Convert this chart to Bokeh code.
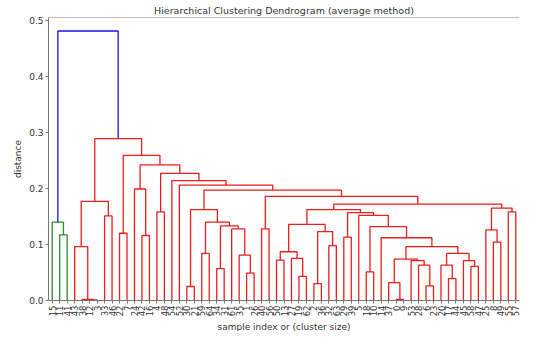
import math
from bokeh.plotting import figure
from bokeh.models import FixedTicker, PrintfTickFormatter, Span, ColumnDataSource, Range1d, Title
from bokeh.embed import file_html
from bokeh.resources import INLINE

# Leaf labels in display order (left to right)
leaf_labels = [15, 11, 41, 43, 38, 12, 3, 33, 46, 22, 7, 24, 42, 16, 4, 48, 54, 52, 30, 21,
               59, 64, 34, 31, 61, 35, 1, 26, 40, 56, 50, 13, 27, 19, 62, 2, 36, 32, 63, 29,
               39, 5, 18, 10, 14, 37, 0, 9, 53, 28, 6, 23, 20, 17, 44, 45, 58, 47, 25, 8,
               49, 55, 57]

# Linkage: children are leaf positions (0..62) or merged nodes (63 + merge index)
merge_left = [1, 0, 5, 4, 3, 7, 67, 9, 12, 11, 14, 18, 20, 22, 26, 25, 24, 76, 75, 74,
              28, 30, 33, 32, 84, 35, 37, 88, 87, 39, 42, 46, 45, 50, 49, 48, 95, 53, 52, 56,
              55, 101, 99, 44, 93, 41, 92, 91, 59, 58, 61, 112, 110, 83, 82, 17, 16, 73, 72, 70,
              69, 64]
merge_right = [2, 63, 6, 65, 66, 8, 68, 10, 13, 71, 15, 19, 21, 23, 27, 77, 78, 79, 80, 81,
               29, 31, 34, 85, 86, 36, 38, 89, 90, 40, 43, 47, 94, 51, 96, 97, 98, 54, 100, 57,
               102, 103, 104, 105, 106, 107, 108, 109, 60, 111, 62, 113, 114, 115, 116, 117, 118, 119, 120, 121,
               122, 123]
merge_height = [0.117, 0.140, 0.001, 0.002, 0.096, 0.151, 0.177, 0.120, 0.116, 0.199,
                0.158, 0.025, 0.084, 0.057, 0.049, 0.081, 0.128, 0.133, 0.140, 0.162,
                0.128, 0.072, 0.043, 0.075, 0.087, 0.030, 0.098, 0.123, 0.136, 0.113,
                0.051, 0.002, 0.032, 0.026, 0.063, 0.071, 0.074, 0.039, 0.063, 0.061,
                0.071, 0.084, 0.096, 0.112, 0.132, 0.152, 0.157, 0.162, 0.104, 0.126,
                0.158, 0.165, 0.172, 0.186, 0.197, 0.206, 0.214, 0.227, 0.242, 0.259,
                0.289, 0.481]

y_ticks = [0.0, 0.1, 0.2, 0.3, 0.4, 0.5]

cluster_colors = ["#2a8f2a", "#ee1c1c"]
above_color = "#1515f0"

n = len(leaf_labels)
pos = {k: 5 + 10 * k for k in range(n)}
hgt = {k: 0.0 for k in range(n)}
for i, (l, r, h) in enumerate(zip(merge_left, merge_right, merge_height)):
    pos[n + i] = (pos[l] + pos[r]) / 2
    hgt[n + i] = h

threshold = 0.7 * max(merge_height)
node_color = {}
counter = [0]

def assign(node, inherited):
    if node < n:
        return
    i = node - n
    h = merge_height[i]
    if h >= threshold:
        c = above_color
    elif inherited is None:
        c = cluster_colors[counter[0] % len(cluster_colors)]
        counter[0] += 1
    else:
        c = inherited
    node_color[node] = c
    nxt = None if h >= threshold else c
    assign(merge_left[i], nxt)
    assign(merge_right[i], nxt)

assign(n + len(merge_height) - 1, None)

xs, ys, cs = [], [], []
for i, (l, r, h) in enumerate(zip(merge_left, merge_right, merge_height)):
    xs.append([pos[l], pos[l], pos[r], pos[r]])
    ys.append([hgt[l], h, h, hgt[r]])
    cs.append(node_color[n + i])

src = ColumnDataSource(dict(xs=xs, ys=ys, color=cs))

ymax = max(merge_height) * 1.05
p = figure(width=521, height=331, x_range=Range1d(0, 10 * n), y_range=Range1d(0, ymax),
           output_backend="svg", toolbar_location=None,
           title="Hierarchical Clustering Dendrogram (average method)",
           min_border_left=48, min_border_right=2, min_border_top=0, min_border_bottom=0)

p.multi_line("xs", "ys", line_color="color", line_width=1.3, source=src)

font = "DejaVu Sans"
txt = "#333333"
ax = "#777777"
p.title.align = "center"
p.title.text_font = font
p.title.text_font_size = "9.5px"
p.title.text_font_style = "normal"
p.title.text_color = txt
p.title.standoff = 4

p.xgrid.visible = False
p.ygrid.visible = False
p.outline_line_color = None
p.add_layout(Span(location=ymax, dimension="width", line_color=ax, line_width=1))

p.xaxis.ticker = FixedTicker(ticks=[pos[k] for k in range(n)])
p.xaxis.major_label_overrides = {pos[k]: str(leaf_labels[k]) for k in range(n)}
p.xaxis.major_label_orientation = math.pi / 2
p.yaxis.axis_label = "distance"
p.yaxis.ticker = FixedTicker(ticks=y_ticks)
p.yaxis.formatter = PrintfTickFormatter(format="%.1f")

for a in (p.xaxis[0], p.yaxis[0]):
    a.minor_tick_line_color = None
    a.major_tick_in = 0
    a.major_tick_out = 3
    a.axis_line_color = ax
    a.major_tick_line_color = ax
    a.major_label_text_font = font
    a.major_label_text_color = txt
    a.axis_label_text_font = font
    a.axis_label_text_font_style = "normal"
    a.axis_label_text_font_size = "9px"
    a.axis_label_text_color = txt
    a.major_label_standoff = 2
    a.axis_label_standoff = 3

p.xaxis.major_label_text_font_size = "8.5px"
p.yaxis.major_label_text_font_size = "9px"

xlabel = Title(text="sample index or (cluster size)", align="center", text_font=font,
               text_font_size="9px", text_font_style="normal", text_color=txt, standoff=0)
p.add_layout(xlabel, "below")

open("out.html", "w").write(file_html(p, INLINE))
